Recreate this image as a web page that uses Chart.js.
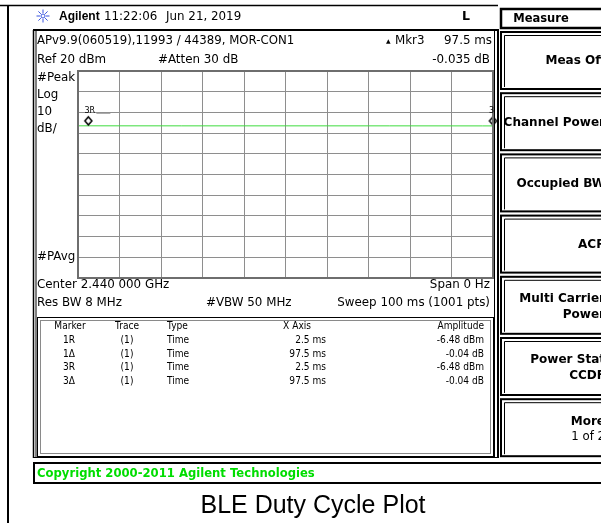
<!DOCTYPE html>
<html>
<head>
<meta charset="utf-8">
<script src="https://cdn.jsdelivr.net/npm/chart.js@4/dist/chart.umd.min.js"></script>
<style>
  html, body { margin: 0; padding: 0; background: #fff; }
  #wrap { width: 601px; height: 523px; }
</style>
</head>
<body>
<div id="wrap"><canvas id="sa" width="601" height="523"></canvas></div>
<script>
// Sweep settings
const refLevelDbm = 20;
const dbPerDiv = 10;
const divisions = 10;
const sweepMs = 100;

// Trace 1 (flat burst level, zero span)
const traceTimeMs = [0, 2.5, 25, 50, 75, 97.5, 100];
const traceDbm = [-6.48, -6.48, -6.5, -6.5, -6.5, -6.52, -6.52];

// Markers drawn on the trace
const markerTimeMs = [2.5, 100];
const markerDbm = [-6.48, -6.52];
const markerTags = ['3R', '3'];

// Marker table
const tableHeader = ['Marker', 'Trace', 'Type', 'X Axis', 'Amplitude'];
const markerNames = ['1R', '1Δ', '3R', '3Δ'];
const markerTraces = ['(1)', '(1)', '(1)', '(1)'];
const markerTypes = ['Time', 'Time', 'Time', 'Time'];
const markerXAxis = ['2.5 ms', '97.5 ms', '2.5 ms', '97.5 ms'];
const markerAmps = ['-6.48 dBm', '-0.04 dB', '-6.48 dBm', '-0.04 dB'];

// Soft keys on the right
const softkeyTitle = 'Measure';
const softkeyLabels = [
  ['Meas Off'], ['Channel Power'], ['Occupied BW'], ['ACP'],
  ['Multi Carrier', 'Power'], ['Power Stat', 'CCDF'], ['More', '1 of 2']
];

const SANS = '"DejaVu Sans", sans-serif';
const mainFont = '12.5px ' + SANS;
const smallFont = '10.8px ' + SANS;
const keyFont = 'bold 12.8px ' + SANS;

// draw text with optional horizontal squeeze
function txt(ctx, s, x, y, font, opts) {
  opts = opts || {};
  const sx = opts.sx || 0.95;
  ctx.save();
  ctx.font = font;
  ctx.fillStyle = opts.color || '#000';
  ctx.textBaseline = 'middle';
  ctx.textAlign = 'left';
  const w = ctx.measureText(s).width * sx;
  let x0 = x;
  if (opts.align === 'right') x0 = x - w;
  if (opts.align === 'center') x0 = x - w / 2;
  ctx.translate(x0, y);
  ctx.scale(sx, 1);
  ctx.fillText(s, 0, 0);
  ctx.restore();
}

function line(ctx, x1, y1, x2, y2, color, w) {
  ctx.save();
  ctx.strokeStyle = color;
  ctx.lineWidth = w;
  ctx.beginPath();
  ctx.moveTo(x1, y1);
  ctx.lineTo(x2, y2);
  ctx.stroke();
  ctx.restore();
}

// marker diamond sits just above its trace point
const diamond = document.createElement('canvas');
diamond.width = 11;
diamond.height = 22;
(function () {
  const c = diamond.getContext('2d');
  c.fillStyle = '#fff';
  c.strokeStyle = '#000';
  c.lineWidth = 1.5;
  c.beginPath();
  c.moveTo(5.5, 2);
  c.lineTo(9, 6);
  c.lineTo(5.5, 10);
  c.lineTo(2, 6);
  c.closePath();
  c.fill();
  c.stroke();
})();

const screenPlugin = {
  id: 'screen',
  beforeDraw(chart) {
    const ctx = chart.ctx;
    ctx.save();
    ctx.fillStyle = '#fff';
    ctx.fillRect(0, 0, chart.width, chart.height);
    ctx.restore();
  },
  afterDraw(chart) {
    const ctx = chart.ctx;
    const a = chart.chartArea;
    const xs = chart.scales.x, ys = chart.scales.y;

    // outer frame
    line(ctx, 0, 5.5, 498, 5.5, '#000', 1.5);
    line(ctx, 8, 5, 8, 523, '#000', 2);

    // header
    ctx.save();
    ctx.strokeStyle = '#3a55e0';
    ctx.lineWidth = 1;
    for (let k = 0; k < 8; k++) {
      const ang = k * Math.PI / 4;
      ctx.beginPath();
      ctx.moveTo(43 + Math.cos(ang) * 3, 16 + Math.sin(ang) * 3);
      ctx.lineTo(43 + Math.cos(ang) * 6.5, 16 + Math.sin(ang) * 6.5);
      ctx.stroke();
    }
    ctx.beginPath();
    ctx.arc(43, 16, 2, 0, Math.PI * 2);
    ctx.stroke();
    ctx.restore();
    txt(ctx, 'Agilent', 59, 17, 'bold 12px "Liberation Sans", Arial, sans-serif', { sx: 1 });
    txt(ctx, '11:22:06', 104, 17, mainFont);
    txt(ctx, 'Jun 21, 2019', 166, 17, mainFont);
    txt(ctx, 'L', 466, 17, 'bold 12.5px ' + SANS, { align: 'center', sx: 1 });

    // main display panel
    line(ctx, 33, 30, 499, 30, '#000', 2);
    line(ctx, 33.5, 30, 33.5, 458, '#000', 1.5);
    line(ctx, 36, 30, 36, 458, '#000', 1);
    line(ctx, 494.5, 30, 494.5, 458, '#000', 1);
    line(ctx, 498, 30, 498, 458, '#000', 2);
    line(ctx, 33, 457.5, 499, 457.5, '#000', 1);

    txt(ctx, 'APv9.9(060519),11993 / 44389, MOR-CON1', 37, 41, mainFont, { sx: 0.94 });
    txt(ctx, '▲', 386, 41, '6px ' + SANS, { sx: 1 });
    txt(ctx, 'Mkr3', 395, 41, mainFont);
    txt(ctx, '97.5 ms', 492, 41, mainFont, { align: 'right' });
    txt(ctx, 'Ref ' + refLevelDbm + ' dBm', 37, 60, mainFont);
    txt(ctx, '#Atten 30 dB', 158, 60, mainFont);
    txt(ctx, '-0.035 dB', 490, 60, mainFont, { align: 'right' });

    txt(ctx, '#Peak', 37, 78, mainFont);
    txt(ctx, 'Log', 37, 95, mainFont);
    txt(ctx, String(dbPerDiv), 37, 112, mainFont);
    txt(ctx, 'dB/', 37, 129, mainFont);
    txt(ctx, '#PAvg', 37, 257, mainFont);

    // graticule frame
    ctx.save();
    ctx.strokeStyle = '#6e6e6e';
    ctx.lineWidth = 2;
    ctx.strokeRect(a.left, a.top, a.right - a.left, a.bottom - a.top);
    ctx.restore();

    // marker tags
    markerTimeMs.forEach((t, i) => {
      const px = xs.getPixelForValue(t);
      const py = ys.getPixelForValue(markerDbm[i]);
      const lx = Math.min(px - 4, a.right + 1);
      txt(ctx, markerTags[i], lx, py - 15, '8px ' + SANS, { sx: 1 });
      if (markerTags[i].length > 1) {
        line(ctx, lx + 12, py - 12.5, lx + 26, py - 12.5, '#999', 1);
      }
    });

    txt(ctx, 'Center 2.440 000 GHz', 37, 285, mainFont);
    txt(ctx, 'Span 0 Hz', 490, 285, mainFont, { align: 'right' });
    txt(ctx, 'Res BW 8 MHz', 37, 303, mainFont);
    txt(ctx, '#VBW 50 MHz', 206, 303, mainFont);
    txt(ctx, 'Sweep ' + sweepMs + ' ms (1001 pts)', 490, 303, mainFont, { align: 'right' });

    // marker table box
    ctx.save();
    ctx.lineWidth = 1;
    ctx.strokeStyle = '#000';
    ctx.strokeRect(37.5, 317.5, 456, 139);
    ctx.strokeStyle = '#8a8a8a';
    ctx.strokeRect(40.5, 320.5, 450, 133);
    ctx.restore();

    const sq = 0.84;
    txt(ctx, tableHeader[0], 70, 326, smallFont, { sx: sq, align: 'center' });
    txt(ctx, tableHeader[1], 127, 326, smallFont, { sx: sq, align: 'center' });
    txt(ctx, tableHeader[2], 167, 326, smallFont, { sx: sq });
    txt(ctx, tableHeader[3], 311, 326, smallFont, { sx: sq, align: 'right' });
    txt(ctx, tableHeader[4], 484, 326, smallFont, { sx: sq, align: 'right' });
    markerNames.forEach((n, i) => {
      const y = 340 + i * 13.7;
      txt(ctx, n, 69, y, smallFont, { sx: sq, align: 'center' });
      txt(ctx, markerTraces[i], 127, y, smallFont, { sx: sq, align: 'center' });
      txt(ctx, markerTypes[i], 167, y, smallFont, { sx: sq });
      txt(ctx, markerXAxis[i], 326, y, smallFont, { sx: sq, align: 'right' });
      txt(ctx, markerAmps[i], 484, y, smallFont, { sx: sq, align: 'right' });
    });

    // copyright bar
    ctx.save();
    ctx.strokeStyle = '#000';
    ctx.lineWidth = 2;
    ctx.strokeRect(34, 463, 580, 20);
    ctx.restore();
    txt(ctx, 'Copyright 2000-2011 Agilent Technologies', 37, 473.5, 'bold 12.5px ' + SANS, { color: '#00dd00', sx: 0.93 });

    // soft keys
    ctx.save();
    ctx.strokeStyle = '#000';
    ctx.lineWidth = 2.5;
    ctx.strokeRect(501, 9, 110, 19);
    ctx.restore();
    txt(ctx, softkeyTitle, 541, 18.5, keyFont, { align: 'center', sx: 0.9 });
    softkeyLabels.forEach((lab, i) => {
      const top = 32 + i * 61.2;
      ctx.save();
      ctx.strokeStyle = '#000';
      ctx.lineWidth = 2;
      ctx.strokeRect(501, top, 110, 57);
      ctx.lineWidth = 1;
      ctx.beginPath();
      ctx.moveTo(504.5, top + 55);
      ctx.lineTo(504.5, top + 3.5);
      ctx.lineTo(611, top + 3.5);
      ctx.stroke();
      ctx.restore();
      const cy = top + 29;
      if (lab.length === 1) {
        txt(ctx, lab[0], 605, cy, keyFont, { align: 'right', sx: 0.94 });
      } else {
        txt(ctx, lab[0], 605, cy - 7, keyFont, { align: 'right', sx: 0.94 });
        const f = lab[1] === '1 of 2' ? '12.5px ' + SANS : keyFont;
        txt(ctx, lab[1], 605, cy + 9, f, { align: 'right', sx: 0.94 });
      }
    });

    // caption
    txt(ctx, 'BLE Duty Cycle Plot', 313, 506, '25px "Liberation Sans", Arial, sans-serif', { align: 'center', sx: 1 });
  }
};

new Chart(document.getElementById('sa').getContext('2d'), {
  type: 'line',
  data: {
    datasets: [
      {
        label: 'Trace 1',
        data: traceTimeMs.map((t, i) => ({ x: t, y: traceDbm[i] })),
        borderColor: '#3fdc3f',
        borderWidth: 1,
        pointRadius: 0,
        tension: 0,
        order: 2
      },
      {
        label: 'Markers',
        type: 'scatter',
        data: markerTimeMs.map((t, i) => ({ x: t, y: markerDbm[i] })),
        pointStyle: diamond,
        pointRadius: 5,
        order: 1
      }
    ]
  },
  options: {
    responsive: false,
    devicePixelRatio: 1,
    animation: false,
    clip: false,
    layout: { padding: { left: 78, top: 71, right: 108, bottom: 245 } },
    plugins: {
      legend: { display: false },
      tooltip: { enabled: false }
    },
    scales: {
      x: {
        type: 'linear',
        min: 0,
        max: sweepMs,
        ticks: { display: false, stepSize: sweepMs / divisions },
        grid: { color: '#8e8e8e', lineWidth: 1, drawTicks: false },
        border: { display: false }
      },
      y: {
        type: 'linear',
        min: refLevelDbm - dbPerDiv * divisions,
        max: refLevelDbm,
        ticks: { display: false, stepSize: dbPerDiv },
        grid: { color: '#8e8e8e', lineWidth: 1, drawTicks: false },
        border: { display: false }
      }
    }
  },
  plugins: [screenPlugin]
});
</script>
</body>
</html>
